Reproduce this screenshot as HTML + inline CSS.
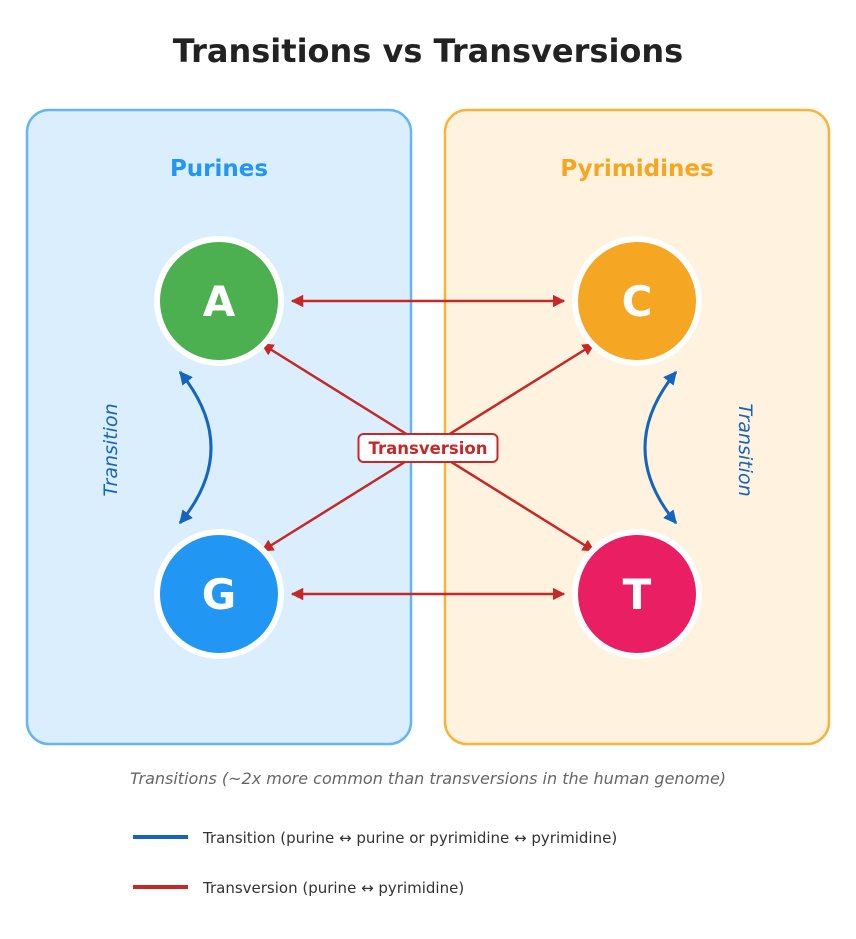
<!DOCTYPE html>
<html><head><meta charset="utf-8"><style>
html,body{margin:0;padding:0;background:#fff;}
svg{display:block;font-family:"DejaVu Sans","Liberation Sans",sans-serif;}
</style></head><body>
<svg width="856" height="939" viewBox="0 0 856 939" xmlns="http://www.w3.org/2000/svg">
<defs>
<marker id="r" viewBox="0 0 10 10" refX="9" refY="5" markerWidth="5" markerHeight="5" orient="auto-start-reverse"><path d="M0,0 L10,5 L0,10 z" fill="#c62828"/></marker>
<marker id="b" viewBox="0 0 10 10" refX="9" refY="5" markerWidth="4.5" markerHeight="4.5" orient="auto-start-reverse"><path d="M0,0 L10,5 L0,10 z" fill="#1565c0"/></marker>
</defs>
<text x="428" y="62" text-anchor="middle" font-size="32" font-weight="bold" fill="#222">Transitions vs Transversions</text>
<rect x="27" y="110" width="384" height="634" rx="22" fill="#dbeefe" stroke="#64b5f6" stroke-width="2.5"/>
<rect x="445" y="110" width="384" height="634" rx="22" fill="#fff2de" stroke="#f6b53a" stroke-width="2.5"/>
<text x="219" y="176" text-anchor="middle" font-size="23" font-weight="bold" fill="#2196f3">Purines</text>
<text x="637" y="176" text-anchor="middle" font-size="23" font-weight="bold" fill="#f5a623">Pyrimidines</text>
<g stroke="#c62828" stroke-width="2.5" fill="none">
<line x1="292" y1="301" x2="564" y2="301" marker-start="url(#r)" marker-end="url(#r)"/>
<line x1="292" y1="594" x2="564" y2="594" marker-start="url(#r)" marker-end="url(#r)"/>
<line x1="262" y1="344" x2="594" y2="551" marker-start="url(#r)" marker-end="url(#r)"/>
<line x1="594" y1="344" x2="262" y2="551" marker-start="url(#r)" marker-end="url(#r)"/>
</g>
<g stroke="#1565c0" stroke-width="3" fill="none">
<path d="M180,372 Q242,448 180,523" marker-start="url(#b)" marker-end="url(#b)"/>
<path d="M676,372 Q614,448 676,523" marker-start="url(#b)" marker-end="url(#b)"/>
</g>
<text transform="translate(117,450) rotate(-90)" text-anchor="middle" font-size="19" font-style="italic" fill="#1565c0">Transition</text>
<text transform="translate(739,450) rotate(90)" text-anchor="middle" font-size="19" font-style="italic" fill="#1565c0">Transition</text>
<rect x="358.5" y="434" width="139" height="28" rx="5" fill="#fff" stroke="#c62828" stroke-width="2"/>
<text x="428" y="454" text-anchor="middle" font-size="16.5" font-weight="bold" fill="#c62828">Transversion</text>
<g stroke="#fff" stroke-width="6">
<circle cx="219" cy="301" r="62" fill="#4caf50"/>
<circle cx="637" cy="301" r="62" fill="#f5a623"/>
<circle cx="219" cy="594" r="62" fill="#2196f3"/>
<circle cx="637" cy="594" r="62" fill="#e91e63"/>
</g>
<g font-size="42" font-weight="bold" fill="#fff" text-anchor="middle">
<text x="219" y="316">A</text>
<text x="637" y="316">C</text>
<text x="219" y="609">G</text>
<text x="637" y="609">T</text>
</g>
<text x="428" y="784" text-anchor="middle" font-size="16" font-style="italic" fill="#666">Transitions (~2x more common than transversions in the human genome)</text>
<line x1="133" y1="837" x2="188" y2="837" stroke="#1565c0" stroke-width="4"/>
<text x="203" y="843" font-size="15" fill="#333">Transition (purine ↔ purine or pyrimidine ↔ pyrimidine)</text>
<line x1="133" y1="887" x2="188" y2="887" stroke="#c62828" stroke-width="4"/>
<text x="203" y="893" font-size="15" fill="#333">Transversion (purine ↔ pyrimidine)</text>
</svg>
</body></html>
